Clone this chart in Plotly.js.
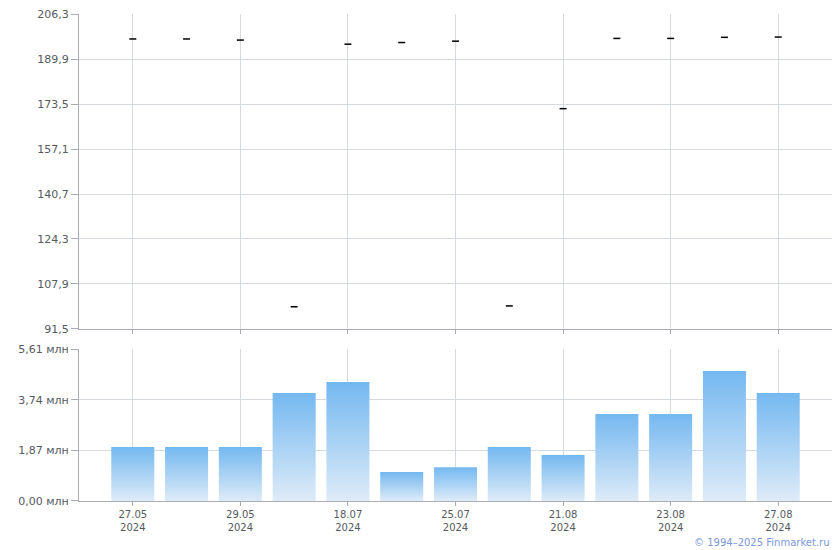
<!DOCTYPE html>
<html>
<head>
<meta charset="utf-8">
<script src="https://cdn.plot.ly/plotly-3.0.1.min.js"></script>
<style>html,body{margin:0;padding:0;background:#fff;}#chart{width:840px;height:550px;}</style>
</head>
<body>
<div id="chart"></div>
<script>
// Category positions (13 trading days)
const positions = [0,1,2,3,4,5,6,7,8,9,10,11,12];
// Price values (top panel)
const prices = [197.2, 197.2, 196.8, 99.6, 195.3, 195.9, 196.4, 99.9, 171.8, 197.4, 197.4, 197.8, 197.9];
// Volume values, million (bottom panel)
const volumes = [1.99, 1.99, 1.99, 3.99, 4.39, 1.07, 1.25, 1.99, 1.70, 3.21, 3.21, 4.80, 3.99];
// X tick labels
const xTickVals = [0, 2, 4, 6, 8, 10, 12];
const xTickText = ["27.05<br>2024", "29.05<br>2024", "18.07<br>2024", "25.07<br>2024", "21.08<br>2024", "23.08<br>2024", "27.08<br>2024"];
// Y tick labels
const priceTickVals = [91.5, 107.9, 124.3, 140.7, 157.1, 173.5, 189.9, 206.3];
const priceTickText = ["91,5", "107,9", "124,3", "140,7", "157,1", "173,5", "189,9", "206,3"];
const volTickVals = [0, 1.87, 3.74, 5.61];
const volTickText = ["0,00 млн", "1,87 млн", "3,74 млн", "5,61 млн"];

const barHalf = 0.4;
const traces = [];
traces.push({
  type: 'scatter', mode: 'markers', x: positions, y: prices,
  xaxis: 'x', yaxis: 'y',
  marker: {symbol: 'line-ew', size: 5, color: '#000', line: {color: '#000', width: 1.5}},
  showlegend: false, hoverinfo: 'skip'
});
volumes.forEach(function(v, i){
  const p = positions[i];
  traces.push({
    type: 'scatter', mode: 'lines',
    x: [p - barHalf, p + barHalf, p + barHalf, p - barHalf, p - barHalf],
    y: [0, 0, v, v, 0],
    xaxis: 'x2', yaxis: 'y2',
    fill: 'toself',
    fillcolor: '#a9d0f4',
    fillgradient: {type: 'vertical', colorscale: [[0, '#deebf8'], [1, '#74b8f0']]},
    line: {width: 0, color: 'rgba(0,0,0,0)'},
    showlegend: false, hoverinfo: 'skip'
  });
});

const gridC = '#d5dade';
const axisC = '#a9adb3';
const tickFont = {family: 'DejaVu Sans, Verdana, sans-serif', size: 11, color: '#555a60'};
const xTickFont = {family: 'DejaVu Sans, Verdana, sans-serif', size: 10, color: '#555a60'};

const layout = {
  width: 840, height: 550,
  margin: {l: 79, r: 8, t: 14, b: 49},
  paper_bgcolor: '#fff', plot_bgcolor: '#fff',
  showlegend: false, hovermode: false,
  font: tickFont,
  xaxis: {
    domain: [0, 1], anchor: 'y', range: [-1, 13],
    tickmode: 'array', tickvals: xTickVals, ticktext: xTickText,
    showticklabels: false,
    showgrid: true, gridcolor: gridC, gridwidth: 1,
    showline: true, linecolor: axisC, linewidth: 1,
    ticks: 'outside', ticklen: 4, tickcolor: axisC,
    zeroline: false, fixedrange: true
  },
  yaxis: {
    domain: [0.3532, 1], anchor: 'x', range: [91.5, 206.3],
    tickmode: 'array', tickvals: priceTickVals, ticktext: priceTickText,
    showgrid: true, gridcolor: gridC, gridwidth: 1,
    showline: true, linecolor: axisC, linewidth: 1,
    ticks: 'outside', ticklen: 7, tickcolor: axisC,
    zeroline: false, tickfont: tickFont, fixedrange: true
  },
  xaxis2: {
    domain: [0, 1], anchor: 'y2', range: [-1, 13],
    tickmode: 'array', tickvals: xTickVals, ticktext: xTickText,
    showgrid: true, gridcolor: gridC, gridwidth: 1,
    showline: true, linecolor: axisC, linewidth: 1,
    ticks: 'outside', ticklen: 4, tickcolor: axisC,
    zeroline: false, tickfont: xTickFont, fixedrange: true
  },
  yaxis2: {
    domain: [0, 0.3121], anchor: 'x2', range: [0, 5.61],
    tickmode: 'array', tickvals: volTickVals, ticktext: volTickText,
    showgrid: true, gridcolor: gridC, gridwidth: 1,
    showline: true, linecolor: axisC, linewidth: 1,
    ticks: 'outside', ticklen: 7, tickcolor: axisC,
    zeroline: false, tickfont: tickFont, fixedrange: true
  },
  annotations: [{
    xref: 'paper', yref: 'paper', x: 1, y: -0.086,
    xanchor: 'right', yanchor: 'middle', showarrow: false,
    text: '© 1994–2025 Finmarket.ru',
    font: {family: 'DejaVu Sans, Verdana, sans-serif', size: 10, color: '#7c98de'}
  }]
};

Plotly.newPlot('chart', traces, layout, {displayModeBar: false, staticPlot: true});
</script>
</body>
</html>
